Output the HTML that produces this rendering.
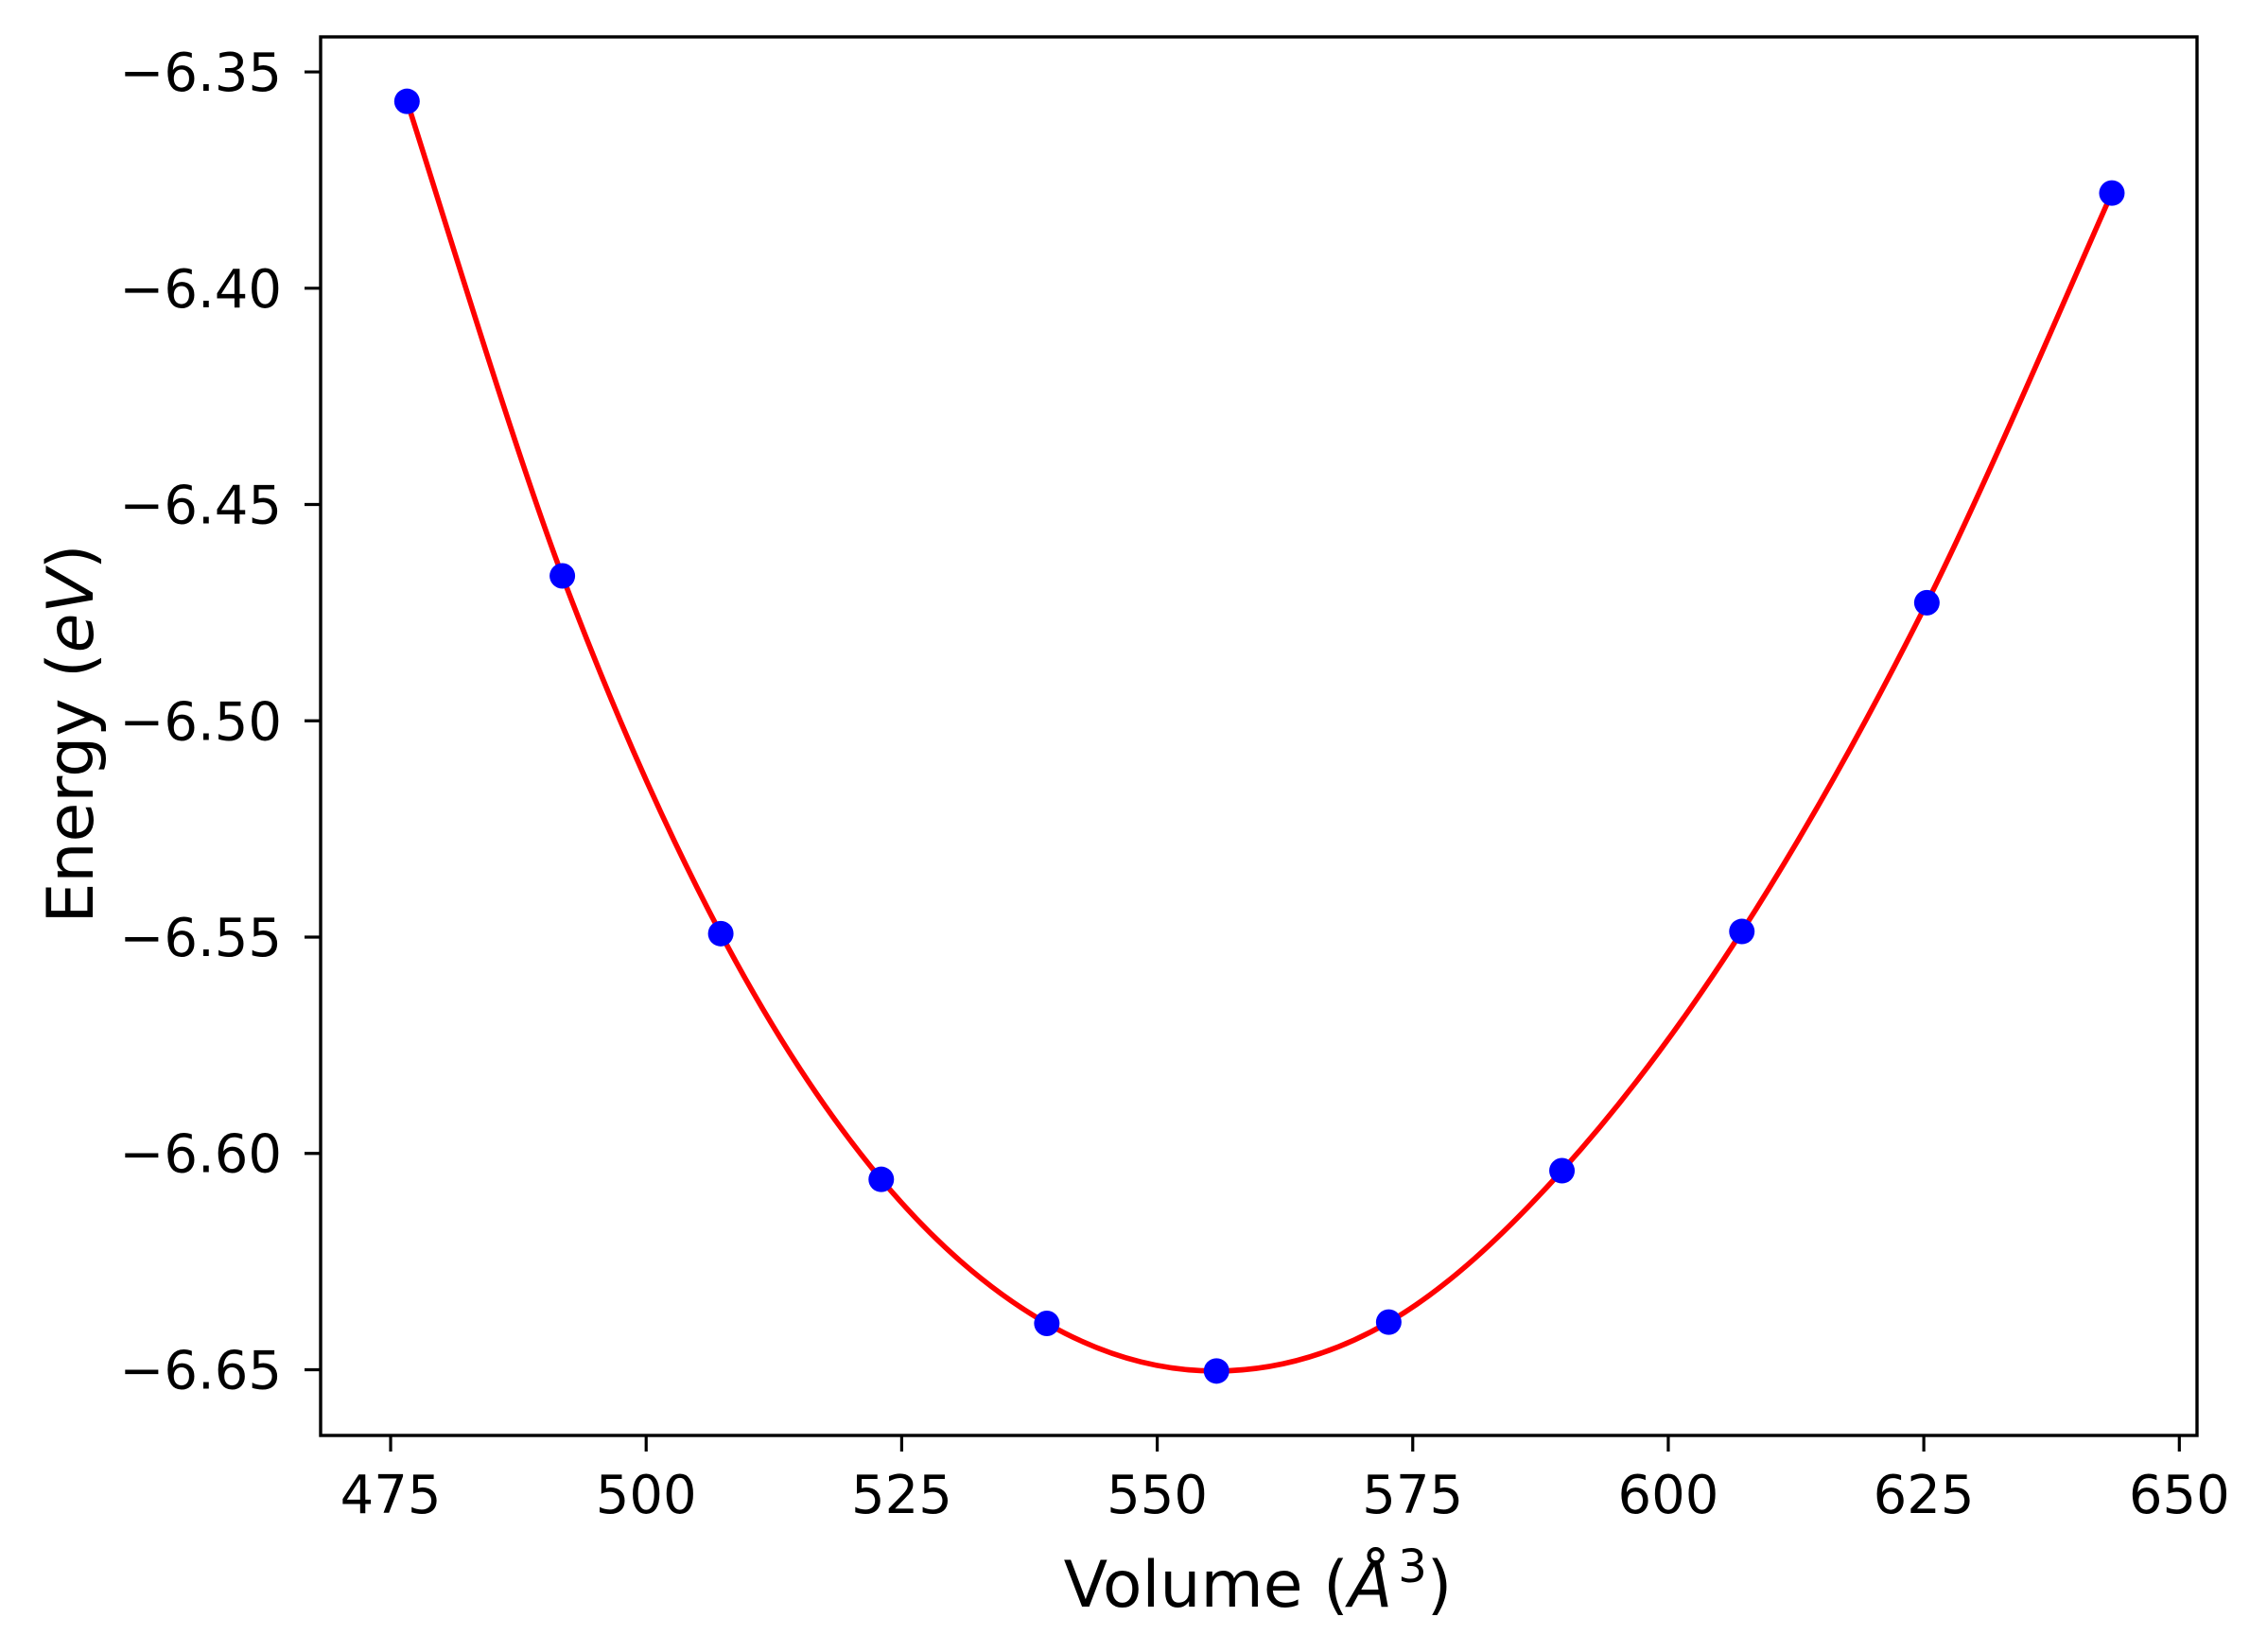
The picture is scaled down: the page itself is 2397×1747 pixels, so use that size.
<!DOCTYPE html>
<html><head><meta charset="utf-8"><style>
html,body{margin:0;padding:0;background:#fff;}
svg{display:block;font-family:"DejaVu Sans","Liberation Sans",sans-serif;}
</style></head><body>
<svg id="chart" width="2397" height="1747" viewBox="0 0 2397 1747">
<rect x="0" y="0" width="2397" height="1747" fill="#fff"/>
<g id="plot"></g>
<g id="axes"></g>
<text x="1330" y="1699" font-size="68" text-anchor="middle">Volume (<tspan font-style="italic">Å</tspan><tspan font-size="48" dx="6" dy="-26">3</tspan><tspan dy="26">)</tspan></text>
<text transform="translate(98,776) rotate(-90)" font-size="68" text-anchor="middle">Energy (<tspan font-style="italic">eV</tspan>)</text>
</svg>
<script>
const volumes = [476.6, 491.8, 507.3, 523.0, 539.2, 555.8, 572.65, 589.6, 607.2, 625.3, 643.4];
const energies = [-6.3568, -6.4665, -6.5492, -6.606, -6.6393, -6.6503, -6.639, -6.604, -6.5487, -6.4727, -6.378];
const xTicks = [475, 500, 525, 550, 575, 600, 625, 650];
const yTicks = [-6.35, -6.40, -6.45, -6.50, -6.55, -6.60, -6.65];

const L=339, R=2323, T=39, B=1518;
const xMin=468.15, xMax=651.73, yMin=-6.6652, yMax=-6.3419;
const sx = v => L + (v - xMin) / (xMax - xMin) * (R - L);
const sy = v => B - (v - yMin) / (yMax - yMin) * (B - T);
const NS='http://www.w3.org/2000/svg';
const plot=document.getElementById('plot'), axes=document.getElementById('axes');
function mk(tag, attrs, parent){const e=document.createElementNS(NS,tag);for(const k in attrs)e.setAttribute(k,attrs[k]);parent.appendChild(e);return e;}

const pts = volumes.map((v,i)=>[sx(v), sy(energies[i])]);
let d = 'M'+pts[0][0]+','+pts[0][1];
for(let i=0;i<pts.length-1;i++){
  const p0=pts[Math.max(0,i-1)], p1=pts[i], p2=pts[i+1], p3=pts[Math.min(pts.length-1,i+2)];
  const c1=[p1[0]+(p2[0]-p0[0])/6, p1[1]+(p2[1]-p0[1])/6];
  const c2=[p2[0]-(p3[0]-p1[0])/6, p2[1]-(p3[1]-p1[1])/6];
  d+=' C'+c1[0]+','+c1[1]+' '+c2[0]+','+c2[1]+' '+p2[0]+','+p2[1];
}
const curve = mk('path',{d:d,fill:'none',stroke:'#ff0000','stroke-width':5.6},plot);



volumes.forEach((v,i)=>{
  const c = mk('circle',{cx:sx(v),cy:sy(energies[i]),r:13.5,fill:'#0000ff'},plot);
  
  
});

const frame = mk('rect',{x:L,y:T,width:R-L,height:B-T,fill:'none',stroke:'#000','stroke-width':3.4},axes);



xTicks.forEach(t=>{
  const x=sx(t);
  const ln = mk('line',{x1:x,y1:B,x2:x,y2:B+17,stroke:'#000','stroke-width':3.2},axes);
  
  
  const tx = mk('text',{x:x,y:1600,'font-size':56,'text-anchor':'middle'},axes);
  tx.textContent = String(t);
  
  
});
yTicks.forEach(t=>{
  const y=sy(t);
  const ln = mk('line',{x1:L-17,y1:y,x2:L,y2:y,stroke:'#000','stroke-width':3.2},axes);
  
  
  const tx = mk('text',{x:298,y:y+20,'font-size':56,'text-anchor':'end'},axes);
  tx.textContent = '\u2212' + Math.abs(t).toFixed(2);
  
  
});
</script>
</body></html>
